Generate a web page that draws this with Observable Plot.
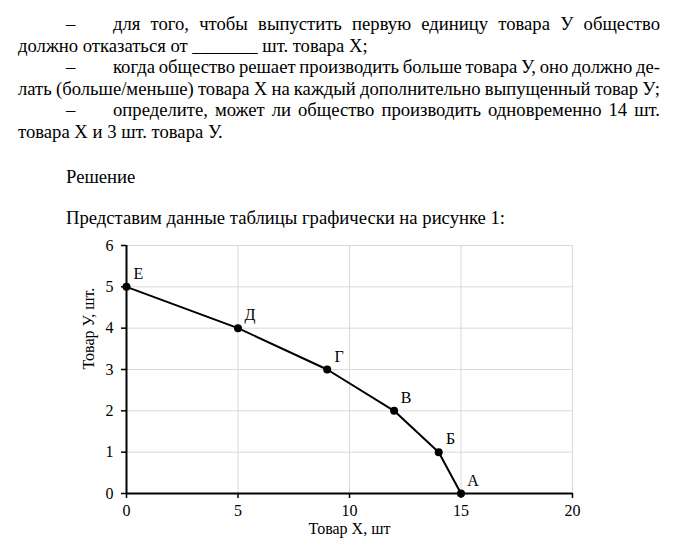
<!DOCTYPE html>
<html>
<head>
<meta charset="utf-8">
<script src="https://cdn.jsdelivr.net/npm/d3@7"></script>
<script src="https://cdn.jsdelivr.net/npm/@observablehq/plot@0.6"></script>
<style>
  html, body { margin: 0; padding: 0; background: #fff; }
  body { width: 679px; height: 554px; position: relative; overflow: hidden;
         font-family: "Liberation Serif", "Times New Roman", serif; color: #000; }
  .ln { position: absolute; font-size: 18.67px; line-height: 21.5px; white-space: nowrap; }
  #chart { position: absolute; left: 0; top: 230px; }
</style>
</head>
<body>
<div class="ln" style="left:66px;top:13px">–</div>
<div class="ln j" data-w="547" style="left:113px;top:13px">для того, чтобы выпустить первую единицу товара У общество</div>
<div class="ln" style="left:18px;top:34.5px">должно отказаться от _______ шт. товара Х;</div>
<div class="ln" style="left:66px;top:56px">–</div>
<div class="ln j" data-w="547" style="left:113px;top:56px">когда общество решает производить больше товара У, оно должно де-</div>
<div class="ln j" data-w="642" style="left:18px;top:77.5px">лать (больше/меньше) товара Х на каждый дополнительно выпущенный товар У;</div>
<div class="ln" style="left:66px;top:99px">–</div>
<div class="ln j" data-w="547" style="left:113px;top:99px">определите, может ли общество производить одновременно 14 шт.</div>
<div class="ln" style="left:18px;top:120.5px">товара Х и 3 шт. товара У.</div>
<div class="ln" style="left:66px;top:166px">Решение</div>
<div class="ln" style="left:66px;top:207px">Представим данные таблицы графически на рисунке 1:</div>
<div id="chart"></div>
<script>
const goodX = [0, 5, 9, 12, 14, 15];
const goodY = [5, 4, 3, 2, 1, 0];
const pointLabels = ["Е", "Д", "Г", "В", "Б", "А"];
const xTicks = [0, 5, 10, 15, 20];
const yTicks = [0, 1, 2, 3, 4, 5, 6];
const xLabel = "Товар Х, шт";
const yLabel = "Товар У, шт.";

// justify each text line to its target width
document.querySelectorAll(".j").forEach(el => {
  const target = +el.dataset.w;
  const natural = el.getBoundingClientRect().width;
  const spaces = (el.textContent.match(/ /g) || []).length;
  if (natural <= target) {
    el.style.wordSpacing = ((target - natural) / spaces) + "px";
  } else {
    // condense slightly: shrink spaces, then letters if needed
    const minSpace = -2;
    let rest = natural - target;
    const ws = Math.max(minSpace, -rest / spaces);
    el.style.wordSpacing = ws + "px";
    rest += ws * spaces;
    if (rest > 0.5) {
      const chars = el.textContent.length - 1;
      el.style.letterSpacing = (-rest / chars) + "px";
    }
  }
});

const data = goodX.map((x, i) => ({x, y: goodY[i], label: pointLabels[i]}));
const font = "Liberation Serif, Times New Roman, serif";

const chart = Plot.plot({
  width: 679,
  height: 324,
  marginLeft: 126,
  marginRight: 107,
  marginTop: 15,
  marginBottom: 61,
  style: {fontFamily: font, fontSize: "16px", color: "#000", background: "transparent"},
  x: {domain: [0, 20], ticks: xTicks},
  y: {domain: [0, 6], ticks: yTicks},
  marks: [
    Plot.gridX(xTicks.filter(d => d > 0), {stroke: "#d9d9d9", strokeOpacity: 1, strokeWidth: 1}),
    Plot.gridY(yTicks.filter(d => d > 0), {stroke: "#d9d9d9", strokeOpacity: 1, strokeWidth: 1}),
    Plot.ruleX([0], {stroke: "#000", strokeWidth: 2}),
    Plot.ruleY([0], {stroke: "#000", strokeWidth: 2}),
    Plot.axisX(xTicks, {tickSize: 5, tickPadding: 6, stroke: "#000", strokeWidth: 1.5, fill: "#000", fontSize: 16, label: null}),
    Plot.axisY(yTicks, {tickSize: 5, tickPadding: 8, stroke: "#000", strokeWidth: 1.5, fill: "#000", fontSize: 16, label: null}),
    Plot.line(data, {x: "x", y: "y", stroke: "#000", strokeWidth: 2}),
    Plot.dot(data, {x: "x", y: "y", r: 4, fill: "#000", stroke: "none"}),
    Plot.text(data, {x: "x", y: "y", text: "label", dx: 12, dy: -13, fontSize: 16, fill: "#000", textAnchor: "middle"}),
    Plot.text([xLabel], {frameAnchor: "bottom", dy: 40, fontSize: 16, fill: "#000"}),
    Plot.text([yLabel], {frameAnchor: "left", dx: -38, rotate: -90, fontSize: 16, fill: "#000"})
  ]
});
document.getElementById("chart").appendChild(chart);
</script>
</body>
</html>
